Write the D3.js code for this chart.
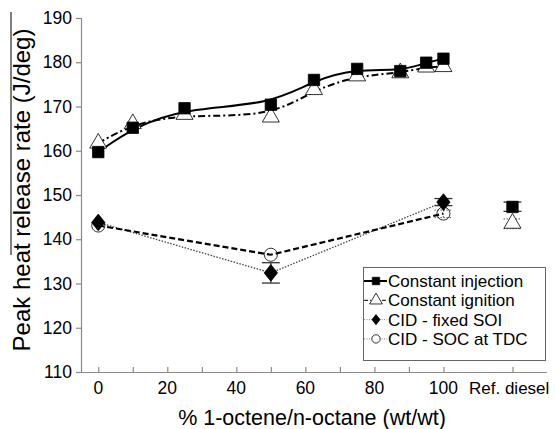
<!DOCTYPE html>
<html>
<head>
<meta charset="utf-8">
<script src="https://cdn.jsdelivr.net/npm/d3@7"></script>
<style>
body { margin: 0; background: #fff; }
text { font-family: "Liberation Sans", Arial, sans-serif; fill: #000; }
</style>
</head>
<body>
<svg id="chart" width="555" height="429"></svg>
<script>
// data
const xTicks = [0, 10, 20, 30, 40, 50, 60, 70, 80, 90, 100, 120];
const xLabels = [0, 20, 40, 60, 80, 100];
const yTicks = [110, 120, 130, 140, 150, 160, 170, 180, 190];

const injX = [0, 10, 25, 50, 62.5, 75, 87.5, 95, 100];
const injY = [159.7, 165.2, 169.6, 170.4, 176.0, 178.5, 178.0, 179.9, 180.8];
const ignX = [0, 10, 25, 50, 62.5, 75, 87.5, 95, 100];
const ignY = [161.7, 166.1, 168.2, 167.6, 173.8, 176.9, 177.6, 178.9, 179.0];
const soiX = [0, 50, 100];
const soiY = [143.8, 132.4, 148.4];
const socX = [0, 50, 100];
const socY = [143.1, 136.5, 145.8];

// reference diesel (plotted at x = 120)
const refX = 120;
const refInj = 147.3;
const refIgn = 143.6;

// error bars: [x, low, high, series]
const errBars = [
  [50, 130.1, 134.7, 'soi'],
  [100, 147.6, 149.2, 'soi'],
  [100, 144.9, 146.6, 'soc'],
  [120, 146.3, 148.4, 'inj'],
  [120, 142.4, 144.6, 'ign']
];

const svg = d3.select('#chart');
const x = d3.scaleLinear().domain([-5, 130]).range([81, 547]);
const y = d3.scaleLinear().domain([110, 190]).range([372, 18]);
const axisColor = '#8a8a8a';

// axes
const xAxis = svg.append('g').attr('transform', 'translate(0,372)')
  .call(d3.axisBottom(x).tickValues(xTicks).tickSize(5).tickFormat(''));
const yAxis = svg.append('g').attr('transform', 'translate(81,0)')
  .call(d3.axisLeft(y).tickValues(yTicks).tickSize(5).tickFormat(''));
[xAxis, yAxis].forEach(g => {
  g.select('.domain').attr('stroke', axisColor).attr('stroke-width', 1.2);
  g.selectAll('.tick line').attr('stroke', axisColor).attr('stroke-width', 1.2);
});
xAxis.select('.domain').attr('d', 'M81,0.5H547');
yAxis.select('.domain').attr('d', 'M0.5,18V372.5');
xAxis.selectAll('.tick line').attr('y2', -5);

svg.selectAll('text.ylab')
  .data(yTicks)
  .enter()
  .append('text')
  .attr('class', 'ylab')
  .attr('x', 72)
  .attr('y', d => y(d))
  .attr('dy', '0.35em')
  .attr('text-anchor', 'end')
  .style('font-size', '17.5px')
  .text(d => d);

svg.selectAll('text.xlab')
  .data(xLabels)
  .enter()
  .append('text')
  .attr('class', 'xlab')
  .attr('x', d => x(d))
  .attr('y', 388)
  .attr('dy', '0.35em')
  .attr('text-anchor', 'middle')
  .style('font-size', '17.5px')
  .text(d => d);

svg.append('text')
  .attr('x', 469)
  .attr('y', 388)
  .attr('dy', '0.35em')
  .style('font-size', '17px')
  .text('Ref. diesel');

svg.append('text')
  .attr('x', 312)
  .attr('y', 417)
  .attr('dy', '0.35em')
  .attr('text-anchor', 'middle')
  .style('font-size', '21.5px')
  .text('% 1-octene/n-octane (wt/wt)');

svg.append('text')
  .attr('transform', 'translate(22,190) rotate(-90)')
  .attr('dy', '0.35em')
  .attr('text-anchor', 'middle')
  .style('font-size', '24px')
  .text('Peak heat release rate (J/deg)');

svg.append('line')
  .attr('x1', 11).attr('x2', 11)
  .attr('y1', 12).attr('y2', 255)
  .attr('stroke', '#000').attr('stroke-width', 1);

// series lines
const zip = (xs, ys) => xs.map((v, i) => [v, ys[i]]);
const smooth = d3.line().x(d => x(d[0])).y(d => y(d[1])).curve(d3.curveBasis);
const straight = d3.line().x(d => x(d[0])).y(d => y(d[1]));

svg.append('path').attr('d', smooth(zip(injX, injY)))
  .attr('fill', 'none').attr('stroke', '#000').attr('stroke-width', 2);
svg.append('path').attr('d', smooth(zip(ignX, ignY)))
  .attr('fill', 'none').attr('stroke', '#000').attr('stroke-width', 2)
  .attr('stroke-dasharray', '7,3,2,3');
svg.append('path').attr('d', straight(zip(soiX, soiY)))
  .attr('fill', 'none').attr('stroke', '#444').attr('stroke-width', 1.3)
  .attr('stroke-dasharray', '1.5,1.5');
svg.append('path').attr('d', straight(zip(socX, socY)))
  .attr('fill', 'none').attr('stroke', '#000').attr('stroke-width', 2.2)
  .attr('stroke-dasharray', '6,3');

// error bars
errBars.forEach(e => {
  const g = svg.append('g');
  const dotted = e[3] === 'soc' || e[3] === 'ign';
  const col = dotted ? '#777' : '#333';
  const dash = dotted ? '1.5,1.5' : null;
  g.append('line').attr('x1', x(e[0])).attr('x2', x(e[0]))
    .attr('y1', y(e[1])).attr('y2', y(e[2]))
    .attr('stroke', col).attr('stroke-width', 1.2).attr('stroke-dasharray', dash);
  [e[1], e[2]].forEach(v => {
    g.append('line').attr('x1', x(e[0]) - 9).attr('x2', x(e[0]) + 9)
      .attr('y1', y(v)).attr('y2', y(v))
      .attr('stroke', col).attr('stroke-width', 1.3).attr('stroke-dasharray', dash);
  });
});

// wide diamond like the original marker
const wideDiamond = {
  draw(ctx, size) {
    const h = Math.sqrt(size) * 0.68;
    const w = h * 0.8;
    ctx.moveTo(0, -h);
    ctx.lineTo(w, 0);
    ctx.lineTo(0, h);
    ctx.lineTo(-w, 0);
    ctx.closePath();
  }
};

// markers
const sym = {
  inj: d3.symbol().type(d3.symbolSquare).size(130),
  ign: d3.symbol().type(d3.symbolTriangle).size(125),
  soi: d3.symbol().type(wideDiamond).size(150),
  soc: d3.symbol().type(d3.symbolCircle).size(135)
};
const style = {
  inj: { fill: '#000', stroke: '#000' },
  ign: { fill: '#fff', stroke: '#000' },
  soi: { fill: '#000', stroke: '#000' },
  soc: { fill: '#fff', stroke: '#000' }
};

function drawMarkers(key, pts) {
  svg.selectAll('path.m-' + key)
    .data(pts)
    .enter()
    .append('path')
    .attr('class', 'm-' + key)
    .attr('transform', d => `translate(${x(d[0])},${y(d[1])})`)
    .attr('d', sym[key])
    .attr('fill', style[key].fill)
    .attr('fill-opacity', key === 'soc' ? 0 : 1)
    .attr('stroke', style[key].stroke)
    .attr('stroke-width', 0.8);
}

drawMarkers('soc', zip(socX, socY));
drawMarkers('soi', zip(soiX, soiY));
drawMarkers('ign', zip(ignX, ignY).concat([[refX, refIgn]]));
drawMarkers('inj', zip(injX, injY).concat([[refX, refInj]]));

// legend
const legendItems = [
  { key: 'inj', label: 'Constant injection', dash: null, width: 2 },
  { key: 'ign', label: 'Constant ignition', dash: '4,2,1,2', width: 1 },
  { key: 'soi', label: 'CID - fixed SOI', dash: '1,1.5', width: 1 },
  { key: 'soc', label: 'CID - SOC at TDC', dash: '1,1.5', width: 1 }
];
const leg = svg.append('g');
leg.append('rect').attr('x', 363.5).attr('y', 267.5).attr('width', 182).attr('height', 93)
  .attr('fill', '#fff').attr('stroke', '#666').attr('stroke-width', 1);
legendItems.forEach((it, i) => {
  const cy = 281 + i * 19.3;
  leg.append('line').attr('x1', 364).attr('x2', 387).attr('y1', cy).attr('y2', cy)
    .attr('stroke', it.key === 'soi' || it.key === 'soc' ? '#888' : '#000')
    .attr('stroke-width', it.width).attr('stroke-dasharray', it.dash);
  const small = d3.symbol().type(sym[it.key].type()).size(it.key === 'ign' ? 70 : 55);
  leg.append('path').attr('transform', `translate(376,${cy})`).attr('d', small)
    .attr('fill', style[it.key].fill).attr('stroke', '#000').attr('stroke-width', 0.8);
  leg.append('text').attr('x', 388).attr('y', cy).attr('dy', '0.36em')
    .style('font-size', '17px').text(it.label);
});
</script>
</body>
</html>
